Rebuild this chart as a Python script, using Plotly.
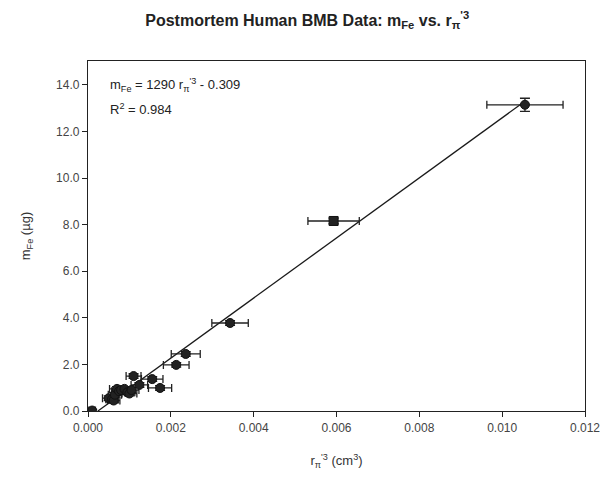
import plotly.graph_objects as go

# Data
r3 = [0.00010, 0.00050, 0.00058, 0.00062, 0.00065, 0.00070, 0.00075, 0.00080, 0.00088,
      0.00095, 0.00100, 0.00105, 0.00110, 0.00124, 0.00155, 0.00174, 0.00213, 0.00236,
      0.00343, 0.00593, 0.01055]
m_fe = [0.02, 0.55, 0.50, 0.45, 0.70, 0.95, 0.85, 0.90, 0.95,
        0.80, 0.75, 0.90, 1.50, 1.12, 1.37, 0.99, 1.98, 2.45,
        3.78, 8.16, 13.15]
r3_err = [0.00008, 0.00015, 0.00015, 0.00015, 0.00016, 0.00018, 0.00018, 0.00018, 0.00018,
          0.00018, 0.00018, 0.00018, 0.00018, 0.00020, 0.00026, 0.00028, 0.00031, 0.00035,
          0.00044, 0.00062, 0.00092]
m_err = [0.05, 0.10, 0.10, 0.10, 0.10, 0.10, 0.10, 0.10, 0.10,
         0.10, 0.10, 0.10, 0.10, 0.10, 0.10, 0.10, 0.10, 0.10,
         0.10, 0.12, 0.28]
symbols = ["circle"] * 19 + ["square", "circle"]

slope = 1290
intercept = -0.309
r_squared = 0.984

x_ticks = [0.000, 0.002, 0.004, 0.006, 0.008, 0.010, 0.012]
y_ticks = [0.0, 2.0, 4.0, 6.0, 8.0, 10.0, 12.0, 14.0]

fit_x = [-intercept / slope, max(r3)]
fit_y = [slope * x + intercept for x in fit_x]

fig = go.Figure()
fig.add_trace(go.Scatter(
    x=fit_x, y=fit_y, mode="lines",
    line=dict(color="#1a1a1a", width=1.3), showlegend=False, hoverinfo="skip"))
fig.add_trace(go.Scatter(
    x=r3, y=m_fe, mode="markers",
    marker=dict(symbol=symbols, size=9, color="#222222",
                line=dict(color="#111111", width=1)),
    error_x=dict(type="data", array=r3_err, color="#222222", thickness=1.3, width=4),
    error_y=dict(type="data", array=m_err, color="#222222", thickness=1.3, width=5),
    showlegend=False))

font_family = "Liberation Sans, Arial, sans-serif"

fig.update_layout(
    width=612, height=484,
    margin=dict(l=88, r=20, t=61, b=73),
    paper_bgcolor="white", plot_bgcolor="white",
    font=dict(family=font_family, color="#444444", size=12),
    title=dict(
        text="<b>Postmortem Human BMB Data: m<sub>Fe</sub> vs. r<sub>π</sub><sup>'3</sup></b>",
        x=0.502, xanchor="center", y=0.958, yanchor="middle",
        font=dict(size=16, color="#222222", family=font_family)),
    xaxis=dict(
        range=[0, 0.012], tickvals=x_ticks, tickformat=".3f",
        showgrid=False, zeroline=False,
        showline=True, linecolor="#222222", linewidth=1.3, mirror=True,
        ticks="outside", ticklen=5, tickcolor="#222222",
        tickfont=dict(size=12, color="#444444"),
        title=dict(text="r<sub>π</sub><sup>'3</sup> (cm<sup>3</sup>)", standoff=22,
                   font=dict(size=13, color="#333333"))),
    yaxis=dict(
        range=[0, 15.03], tickvals=y_ticks, tickformat=".1f",
        showgrid=False, zeroline=False,
        showline=True, linecolor="#222222", linewidth=1.3, mirror=True,
        ticks="outside", ticklen=5, tickcolor="#222222",
        tickfont=dict(size=12, color="#444444"),
        title=dict(text="m<sub>Fe</sub> (µg)", standoff=22,
                   font=dict(size=13, color="#333333"))),
)

fig.add_annotation(
    xref="paper", yref="paper", x=0.04, y=0.93, xanchor="left", yanchor="middle",
    text="m<sub>Fe</sub> = %d r<sub>π</sub><sup>'3</sup> - %.3f" % (slope, -intercept),
    showarrow=False, font=dict(size=13, color="#222222"))
fig.add_annotation(
    xref="paper", yref="paper", x=0.04, y=0.862, xanchor="left", yanchor="middle",
    text="R<sup>2</sup> = %.3f" % r_squared,
    showarrow=False, font=dict(size=13, color="#222222"))

fig.write_html("out.html")
